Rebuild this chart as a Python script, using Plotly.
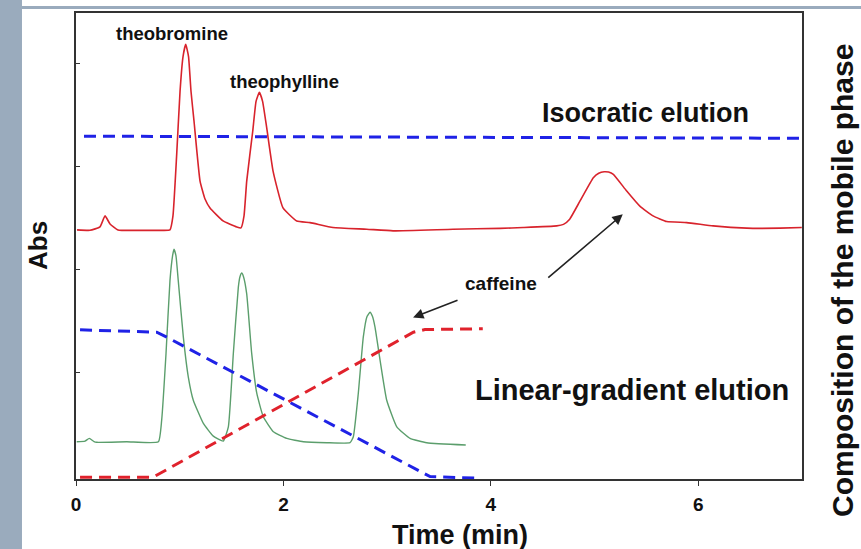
import plotly.graph_objects as go

# ---- data (time in min, absorbance / composition in arbitrary units) ----
iso_t = [0.01, 0.135, 0.231, 0.28, 0.328, 0.405, 0.617, 0.81, 0.906, 0.935, 0.971, 1.003, 1.032,
         1.058, 1.085, 1.109, 1.138, 1.196, 1.244, 1.292, 1.418, 1.55, 1.591, 1.62, 1.646, 1.704,
         1.736, 1.768, 1.799, 1.839, 1.9, 1.996, 2.128, 2.257, 2.478, 2.803, 3.057, 3.635, 4.089,
         4.311, 4.635, 4.70, 4.76, 4.86, 4.988, 5.04, 5.092, 5.135, 5.181, 5.31, 5.439, 5.564, 5.696,
         5.889, 6.143, 6.468, 6.789, 6.998]
iso_abs = [2.386, 2.382, 2.415, 2.522, 2.444, 2.386, 2.382, 2.382, 2.386, 2.522, 3.121, 3.729, 4.068,
           4.186, 4.068, 3.729, 3.44, 2.86, 2.686, 2.599, 2.473, 2.415, 2.406, 2.522, 2.86, 3.343,
           3.633, 3.72, 3.633, 3.375, 2.957, 2.599, 2.473, 2.457, 2.409, 2.393, 2.377, 2.393, 2.401,
           2.409, 2.425, 2.44, 2.49, 2.667, 2.892, 2.935, 2.95, 2.947, 2.925, 2.763, 2.614, 2.522, 2.467,
           2.457, 2.425, 2.403, 2.403, 2.409]

grad_t = [0.007, 0.087, 0.128, 0.174, 0.2, 0.489, 0.794, 0.826, 0.868, 0.906, 0.931, 0.945, 0.964,
          0.986, 1.035, 1.083, 1.131, 1.228, 1.324, 1.42, 1.469, 1.517, 1.565, 1.581, 1.598, 1.615,
          1.646, 1.694, 1.743, 1.806, 1.903, 2.032, 2.192, 2.418, 2.642, 2.674, 2.722, 2.77, 2.806,
          2.835, 2.859, 2.883, 2.932, 2.996, 3.093, 3.221, 3.382, 3.758]
grad_abs = [0.331, 0.338, 0.364, 0.333, 0.326, 0.331, 0.331, 0.541, 1.188, 1.894, 2.135, 2.2, 2.135,
            1.894, 1.346, 0.959, 0.734, 0.509, 0.386, 0.338, 0.476, 1.188, 1.829, 1.932, 1.968, 1.932,
            1.765, 1.188, 0.802, 0.573, 0.428, 0.364, 0.331, 0.322, 0.322, 0.38, 0.802, 1.346, 1.546,
            1.587, 1.546, 1.443, 1.121, 0.734, 0.476, 0.364, 0.322, 0.3]

iso_phase_t = [0.077, 7.0]
iso_phase = [3.295, 3.275]

gradA_t = [0.039, 0.778, 0.875, 3.414, 3.896]
gradA = [1.417, 1.394, 1.346, -0.007, -0.022]

gradB_t = [0.039, 0.743, 3.253, 3.365, 3.922]
gradB = [-0.013, -0.013, 1.394, 1.42, 1.427]

x_ticks = [0, 2, 4, 6]
y_ticks = [1, 2, 3, 4]

FONT = "Liberation Sans, Arial, sans-serif"
RED = "#d8232c"
GREEN = "#5b9e6c"
BLUE = "#1f22e6"
DASHRED = "#e0222c"

fig = go.Figure()
fig.add_trace(go.Scatter(x=iso_t, y=iso_abs, mode="lines",
                         line=dict(color=RED, width=1.6, shape="spline", smoothing=0.4)))
fig.add_trace(go.Scatter(x=grad_t, y=grad_abs, mode="lines",
                         line=dict(color=GREEN, width=1.4, shape="spline", smoothing=0.4)))
fig.add_trace(go.Scatter(x=iso_phase_t, y=iso_phase, mode="lines",
                         line=dict(color=BLUE, width=3, dash="12px,7px")))
fig.add_trace(go.Scatter(x=gradA_t, y=gradA, mode="lines",
                         line=dict(color=BLUE, width=3, dash="12px,7px")))
fig.add_trace(go.Scatter(x=gradB_t, y=gradB, mode="lines",
                         line=dict(color=DASHRED, width=3, dash="12px,7px")))

def txt(x, y, s, size, xref="x", yref="y", angle=0):
    fig.add_annotation(x=x, y=y, xref=xref, yref=yref, text=s, showarrow=False, textangle=angle,
                       xanchor="center", yanchor="middle",
                       font=dict(family=FONT, size=size, color="#111111", weight="bold"))

txt(0.926, 4.293, "theobromine", 18.5)
txt(2.01, 3.826, "theophylline", 18.5)
txt(5.487, 3.517, "Isocratic elution", 27)
txt(4.098, 1.865, "caffeine", 19)
txt(5.36, 0.831, "Linear-gradient elution", 29)

for (tx, ty, hx, hy) in [(4.539, 1.91, 5.272, 2.538), (3.693, 1.71, 3.25, 1.536)]:
    fig.add_annotation(x=hx, y=hy, ax=tx, ay=ty, xref="x", yref="y", axref="x", ayref="y",
                       text="", showarrow=True, arrowhead=2, arrowsize=1.3, arrowwidth=1.6,
                       arrowcolor="#222222")

txt(-0.0523, 0.5, "Abs", 26, xref="paper", yref="paper", angle=-90)
txt(1.0565, 0.425, "Composition of the mobile phase", 30, xref="paper", yref="paper", angle=-90)
txt(0.529, -0.12, "Time (min)", 27, xref="paper", yref="paper")

# slide decoration
fig.add_shape(type="rect", xref="paper", yref="paper", x0=-0.2, x1=-0.0744, y0=-0.2, y1=1.1,
              fillcolor="#9aabbd", line_width=0, layer="below")
fig.add_shape(type="rect", xref="paper", yref="paper", x0=-0.0744, x1=1.2, y0=1.0085, y1=1.015,
              fillcolor="#9aabbd", line_width=0, layer="below")

fig.update_layout(
    width=861, height=549,
    margin=dict(l=76, r=59, t=11, b=70),
    paper_bgcolor="white", plot_bgcolor="white",
    showlegend=False,
    xaxis=dict(range=[0, 7], tickvals=x_ticks, ticks="outside", ticklen=5, tickwidth=1.2,
               tickcolor="#333", showgrid=False, zeroline=False, showline=True, linecolor="#333",
               linewidth=1.5, mirror=True, ticklabelstandoff=2,
               tickfont=dict(family=FONT, size=19, color="#111", weight="bold")),
    yaxis=dict(range=[-0.03, 4.49], tickvals=y_ticks, ticks="inside", ticklen=4, tickwidth=1.2,
               tickcolor="#333", showticklabels=False, showgrid=False, zeroline=False,
               showline=True, linecolor="#333", linewidth=1.5, mirror=True),
)

fig.write_html("out.html", config={"displayModeBar": False},
               post_script="document.body.style.margin='0';document.body.style.overflow='hidden';")
